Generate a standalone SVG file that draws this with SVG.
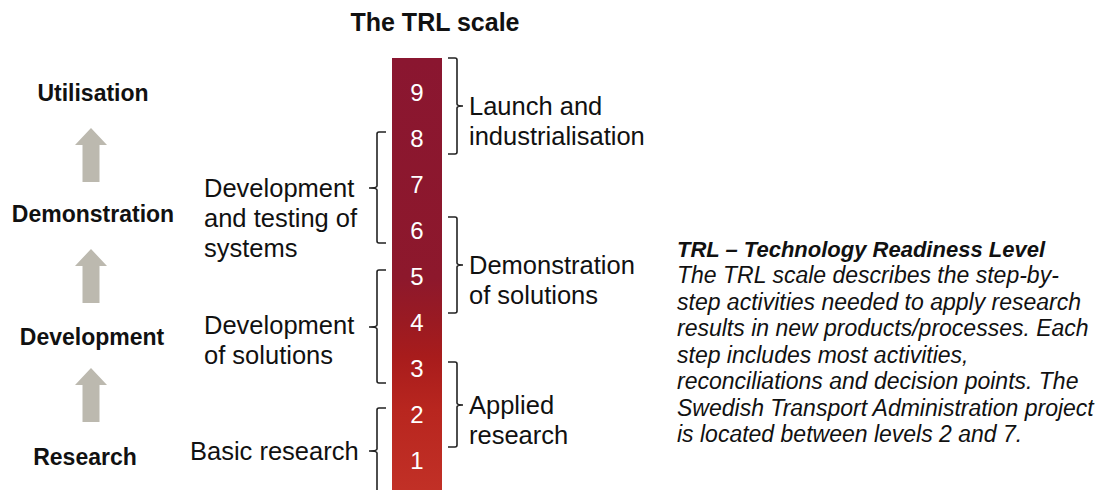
<svg xmlns="http://www.w3.org/2000/svg" width="1111" height="490" viewBox="0 0 1111 490">
<style>
  text { font-family: "Liberation Sans", Arial, sans-serif; fill: #111; }
  .stage { font-size: 23px; font-weight: bold; text-anchor: middle; }
  .lbl { font-size: 25.5px; }
  .num { font-size: 24px; fill: #fff; text-anchor: middle; }
  .title { font-size: 25px; font-weight: bold; text-anchor: middle; }
  .desc { font-size: 23px; font-style: italic; }
  .head { font-size: 22px; font-weight: bold; }
  .br { fill: none; stroke: #222; stroke-width: 1.6; }
  .up { fill: #bcb9af; }
</style>
<defs>
  <linearGradient id="bar" x1="0" y1="0" x2="0" y2="1">
    <stop offset="0" stop-color="#8a1630"/>
    <stop offset="0.5" stop-color="#8d182c"/>
    <stop offset="0.6" stop-color="#9a1a22"/>
    <stop offset="0.68" stop-color="#a81c1c"/>
    <stop offset="0.8" stop-color="#b8261f"/>
    <stop offset="1" stop-color="#c23127"/>
  </linearGradient>
  <path id="arrow" d="M0,0 L16,17 L8.5,17 L8.5,54 L-8.5,54 L-8.5,17 L-16,17 Z"/>
</defs>
<rect width="1111" height="490" fill="#fff"/>

<text class="title" x="435" y="31">The TRL scale</text>

<g id="stages">
  <text class="stage" x="93" y="101">Utilisation</text>
  <text class="stage" x="93" y="222">Demonstration</text>
  <text class="stage" x="92" y="345">Development</text>
  <text class="stage" x="85" y="465">Research</text>
</g>

<g id="stage-arrows">
  <use href="#arrow" class="up" x="91" y="128"/>
  <use href="#arrow" class="up" x="91" y="249"/>
  <use href="#arrow" class="up" x="91" y="368"/>
</g>

<g id="trl-bar">
  <rect x="392" y="58" width="50" height="440" fill="url(#bar)"/>
  <text class="num" x="417" y="101">9</text>
  <text class="num" x="417" y="147">8</text>
  <text class="num" x="417" y="193">7</text>
  <text class="num" x="417" y="239">6</text>
  <text class="num" x="417" y="285">5</text>
  <text class="num" x="417" y="331">4</text>
  <text class="num" x="417" y="377">3</text>
  <text class="num" x="417" y="423">2</text>
  <text class="num" x="417" y="469">1</text>
</g>

<g id="connectors">
  <path class="br" d="M448,58 L455,58 Q457,58 457,60 L457,104 Q457,106 463,106 Q457,106 457,108 L457,152 Q457,154 455,154 L448,154"/>
  <path class="br" d="M448,217 L455,217 Q457,217 457,219 L457,263 Q457,265 463,265 Q457,265 457,267 L457,311 Q457,313 455,313 L448,313"/>
  <path class="br" d="M448,362 L455,362 Q457,362 457,364 L457,403 Q457,405 463,405 Q457,405 457,407 L457,445 Q457,447 455,447 L448,447"/>
  <path class="br" d="M386,132 L379,132 Q377,132 377,134 L377,186 Q377,188 369,188 Q377,188 377,190 L377,241 Q377,243 379,243 L386,243"/>
  <path class="br" d="M386,270 L379,270 Q377,270 377,272 L377,325 Q377,327 369,327 Q377,327 377,329 L377,381 Q377,383 379,383 L386,383"/>
  <path class="br" d="M386,408 L379,408 Q377,408 377,410 L377,449 Q377,451 369,451 Q377,451 377,453 L377,495"/>
</g>

<g id="launch">
  <text class="lbl" x="469" y="115">Launch and</text>
  <text class="lbl" x="469" y="145">industrialisation</text>
</g>
<g id="demonstration">
  <text class="lbl" x="469" y="274">Demonstration</text>
  <text class="lbl" x="469" y="304">of solutions</text>
</g>
<g id="applied">
  <text class="lbl" x="469" y="414">Applied</text>
  <text class="lbl" x="469" y="444">research</text>
</g>
<g id="dev-testing">
  <text class="lbl" x="204" y="197">Development</text>
  <text class="lbl" x="204" y="227">and testing of</text>
  <text class="lbl" x="204" y="257">systems</text>
</g>
<g id="dev-solutions">
  <text class="lbl" x="204" y="334">Development</text>
  <text class="lbl" x="204" y="364">of solutions</text>
</g>
<g id="basic">
  <text class="lbl" x="190" y="460">Basic research</text>
</g>

<g id="description">
  <text class="desc head" x="677" y="257">TRL – Technology Readiness Level</text>
  <text class="desc" x="677" y="283">The TRL scale describes the step-by-</text>
  <text class="desc" x="677" y="310">step activities needed to apply research</text>
  <text class="desc" x="677" y="336">results in new products/processes. Each</text>
  <text class="desc" x="677" y="363">step includes most activities,</text>
  <text class="desc" x="677" y="389">reconciliations and decision points. The</text>
  <text class="desc" x="677" y="416">Swedish Transport Administration project</text>
  <text class="desc" x="677" y="442">is located between levels 2 and 7.</text>
</g>
</svg>
